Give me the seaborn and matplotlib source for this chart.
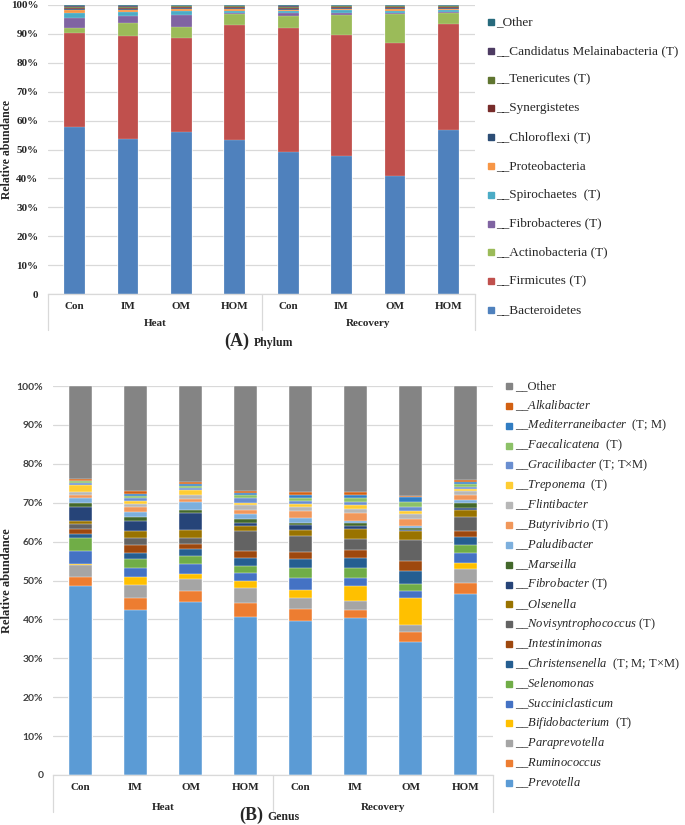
import pandas as pd
import seaborn as sns
import matplotlib.pyplot as plt
from matplotlib.patches import Rectangle

# Samples (x axis)
groups = ["Heat"] * 4 + ["Recovery"] * 4
treatments = ["Con", "IM", "OM", "HOM"] * 2

# Phylum, relative abundance (%), bottom -> top
Bacteroidetes = [57.7, 53.5, 56.0, 53.2, 49.2, 47.9, 40.9, 56.9]
Firmicutes = [32.6, 35.9, 32.7, 40.0, 42.9, 41.7, 46.0, 36.6]
Actinobacteria = [1.6, 4.3, 3.6, 3.6, 4.0, 6.8, 9.9, 3.9]
Fibrobacteres = [3.5, 2.6, 4.1, 0.6, 1.1, 0.7, 0.4, 0.2]
Spirochaetes = [1.7, 1.2, 1.5, 0.6, 0.6, 1.1, 0.6, 0.6]
Proteobacteria = [1.1, 0.7, 0.7, 0.6, 0.6, 0.4, 0.7, 0.5]
Chloroflexi = [0.4, 0.4, 0.3, 0.3, 0.3, 0.3, 0.3, 0.3]
Synergistetes = [0.3, 0.4, 0.3, 0.3, 0.4, 0.3, 0.4, 0.3]
Tenericutes = [0.4, 0.4, 0.3, 0.3, 0.3, 0.3, 0.3, 0.2]
Candidatus_Melainabacteria = [0.4, 0.3, 0.3, 0.3, 0.3, 0.3, 0.3, 0.3]
Other_phylum = [0.3, 0.3, 0.2, 0.2, 0.3, 0.2, 0.2, 0.2]

phylum_series = [Bacteroidetes, Firmicutes, Actinobacteria, Fibrobacteres, Spirochaetes,
                 Proteobacteria, Chloroflexi, Synergistetes, Tenericutes,
                 Candidatus_Melainabacteria, Other_phylum]
phylum_labels = ["__Bacteroidetes", "__Firmicutes (T)", "__Actinobacteria (T)",
                 "__Fibrobacteres (T)", "__Spirochaetes  (T)", "__Proteobacteria",
                 "__Chloroflexi (T)", "__Synergistetes", "__Tenericutes (T)",
                 "__Candidatus Melainabacteria (T)", "_Other"]
phylum_colors = ["#4F81BD", "#C0504D", "#9BBB59", "#8064A2", "#4BACC6", "#F79646",
                 "#2C4D75", "#772C2A", "#5F7530", "#4D3B62", "#276A7C"]

# Genus, relative abundance (%), bottom -> top
Prevotella = [48.7, 42.5, 44.4, 40.5, 39.6, 40.4, 34.2, 46.5]
Ruminococcus = [2.2, 3.0, 2.9, 3.6, 3.2, 2.1, 2.6, 2.9]
Paraprevotella = [3.1, 3.3, 3.1, 4.0, 2.8, 2.2, 1.7, 3.5]
Bifidobacterium = [0.3, 2.1, 1.3, 1.9, 1.9, 3.9, 6.9, 1.7]
Succiniclasticum = [3.2, 2.3, 2.6, 1.9, 3.2, 2.0, 1.9, 2.5]
Selenomonas = [3.3, 2.2, 2.1, 1.8, 2.4, 2.7, 1.9, 2.0]
Christensenella = [1.2, 1.7, 1.6, 2.0, 2.4, 2.4, 3.3, 2.0]
Intestinimonas = [1.3, 2.0, 1.3, 1.8, 1.9, 2.1, 2.6, 1.6]
Novisyntrophococcus = [1.1, 1.8, 1.7, 5.2, 4.1, 2.9, 5.2, 3.6]
Olsenella = [1.0, 1.7, 2.0, 1.2, 1.5, 2.5, 2.3, 1.7]
Fibrobacter = [3.5, 2.6, 4.3, 0.8, 1.2, 0.9, 0.5, 0.6]
Marseilla = [0.9, 1.1, 0.7, 1.2, 0.6, 0.6, 0.5, 1.4]
Paludibacter = [1.3, 1.3, 2.2, 1.1, 1.3, 0.7, 0.3, 0.7]
Butyrivibrio = [1.0, 1.2, 0.8, 1.1, 1.7, 2.0, 2.0, 1.3]
Flintibacter = [0.6, 0.8, 0.9, 1.3, 1.2, 1.1, 1.2, 1.0]
Treponema = [1.8, 0.9, 1.3, 0.6, 0.6, 0.9, 0.7, 0.5]
Gracilibacter = [0.5, 0.6, 0.6, 1.3, 0.9, 0.9, 1.2, 0.6]
Faecalicatena = [0.5, 0.5, 0.6, 0.7, 0.8, 1.0, 1.3, 0.8]
Mediterraneibacter = [0.2, 0.6, 0.4, 0.5, 0.7, 0.7, 1.1, 0.5]
Alkalibacter = [0.3, 0.7, 0.5, 0.5, 0.8, 0.8, 0.3, 0.4]
Other_genus = [24.0, 27.1, 24.7, 27.0, 27.2, 27.2, 28.3, 24.2]

genus_series = [Prevotella, Ruminococcus, Paraprevotella, Bifidobacterium, Succiniclasticum,
                Selenomonas, Christensenella, Intestinimonas, Novisyntrophococcus, Olsenella,
                Fibrobacter, Marseilla, Paludibacter, Butyrivibrio, Flintibacter, Treponema,
                Gracilibacter, Faecalicatena, Mediterraneibacter, Alkalibacter, Other_genus]
genus_labels = [r"__$\mathit{Prevotella}$", r"__$\mathit{Ruminococcus}$",
                r"__$\mathit{Paraprevotella}$", r"__$\mathit{Bifidobacterium}$  (T)",
                r"__$\mathit{Succiniclasticum}$", r"__$\mathit{Selenomonas}$",
                r"__$\mathit{Christensenella}$  (T; M; T×M)", r"__$\mathit{Intestinimonas}$",
                r"__$\mathit{Novisyntrophococcus}$ (T)", r"__$\mathit{Olsenella}$",
                r"__$\mathit{Fibrobacter}$ (T)", r"__$\mathit{Marseilla}$",
                r"__$\mathit{Paludibacter}$", r"__$\mathit{Butyrivibrio}$ (T)",
                r"__$\mathit{Flintibacter}$", r"__$\mathit{Treponema}$  (T)",
                r"__$\mathit{Gracilibacter}$ (T; T×M)", r"__$\mathit{Faecalicatena}$  (T)",
                r"__$\mathit{Mediterraneibacter}$  (T; M)", r"__$\mathit{Alkalibacter}$",
                "__Other"]
genus_colors = ["#5B9BD5", "#ED7D31", "#A5A5A5", "#FFC000", "#4472C4", "#70AD47",
                "#255E91", "#9E480E", "#636363", "#997300", "#264478", "#43682B",
                "#7CAFDD", "#F1975A", "#B7B7B7", "#FFCD33", "#698ED0", "#8CC168",
                "#327DC2", "#D26012", "#848484"]

W, H = 685, 825
GRID = "#D9D9D9"

sns.set_theme(style="white")
plt.rcParams["font.family"] = ["Liberation Serif", "DejaVu Sans"]
plt.rcParams["mathtext.fontset"] = "custom"
plt.rcParams["mathtext.rm"] = "Liberation Serif"
plt.rcParams["mathtext.it"] = "Liberation Serif:italic"


def px(x, y):
    return x / W, 1 - y / H


def stacked_bars(ax, series, colors, width=0.4, edge=0.4):
    samples = [f"{g}|{t}" for g, t in zip(groups, treatments)]
    frame = pd.DataFrame({i: s for i, s in enumerate(series)})
    cum = frame.cumsum(axis=1) / 100
    cum["sample"] = samples
    # draw from the top of the stack down so each segment sits on top
    for i in reversed(range(len(series))):
        sns.barplot(data=cum, x="sample", y=i, order=samples, color=colors[i],
                    saturation=1, width=width, errorbar=None, ax=ax,
                    edgecolor="white", linewidth=edge)
    ax.set_xlim(-0.5, 7.5)
    ax.set_ylim(0, 1)
    ax.set(xlabel=None)
    ax.set_xticks([])
    ax.spines[["top", "right", "left"]].set_visible(False)
    ax.spines["bottom"].set_color(GRID)
    ax.spines["bottom"].set_linewidth(0.9)
    ax.set_yticks([i / 10 for i in range(11)])
    ax.set_yticklabels(["0"] + [f"{i * 10}%" for i in range(1, 11)])
    ax.yaxis.grid(True, color=GRID, linewidth=0.9)
    ax.set_axisbelow(True)
    ax.tick_params(axis="y", length=0, pad=7)


def category_axis(ax, ax_h, lab_px, grp_px, line_px, size=8):
    tr = ax.get_xaxis_transform()
    for x in [-0.5, 3.5, 7.5]:
        ax.plot([x, x], [0, -line_px / ax_h], color=GRID, lw=0.9,
                transform=tr, clip_on=False)
    for i, t in enumerate(treatments):
        ax.text(i, -lab_px / ax_h, t, transform=tr, ha="center", va="center",
                fontsize=size, fontweight="bold")
    for x, g in [(1.5, "Heat"), (5.5, "Recovery")]:
        ax.text(x, -grp_px / ax_h, g, transform=tr, ha="center", va="center",
                fontsize=size, fontweight="bold")


def draw_legend(fig, labels, colors, x, y_top, dy, size, box=6):
    for k, (lab, col) in enumerate(zip(labels[::-1], colors[::-1])):
        yc = y_top + k * dy
        x0, y0 = px(x - box / 2, yc + box / 2)
        fig.add_artist(Rectangle((x0, y0), box / W, box / H, color=col,
                                 transform=fig.transFigure))
        fig.text(*px(x + 6, yc), lab, fontsize=size, ha="left", va="center")


fig = plt.figure(figsize=(W / 100, H / 100), dpi=100)

# (A) Phylum
axA = fig.add_axes([48 / W, 1 - 294 / H, 427 / W, 289 / H])
stacked_bars(axA, phylum_series, phylum_colors, width=0.39, edge=0.15)
for lab in axA.get_yticklabels():
    lab.set_fontweight("bold")
    lab.set_fontsize(8)
axA.set_ylabel("Relative abundance", fontsize=8.5, fontweight="bold")
axA.yaxis.set_label_coords(-0.082, 0.5)
category_axis(axA, 289, 12, 29, 36)
draw_legend(fig, phylum_labels, phylum_colors, 490.5, 22, 28.8, 9.5)
fig.text(*px(249, 346), "(A)", fontsize=13, fontweight="bold", ha="right", va="baseline")
fig.text(*px(254, 346), "Phylum", fontsize=8.5, fontweight="bold", ha="left", va="baseline")

# (B) Genus
axB = fig.add_axes([53 / W, 1 - 775 / H, 440 / W, 389 / H])
stacked_bars(axB, genus_series, genus_colors, width=0.41, edge=0.3)
for lab in axB.get_yticklabels():
    lab.set_family("Lato")
    lab.set_fontweight("bold")
    lab.set_fontsize(7.5)
    lab.set_color("#404040")
axB.set_ylabel("Relative abundance", fontsize=9, fontweight="bold")
axB.yaxis.set_label_coords(-0.092, 0.5)
category_axis(axB, 389, 13, 32, 37)
draw_legend(fig, genus_labels, genus_colors, 509, 386, 19.85, 9)
fig.text(*px(263, 820), "(B)", fontsize=13, fontweight="bold", ha="right", va="baseline")
fig.text(*px(267, 820), "Genus", fontsize=8.5, fontweight="bold", ha="left", va="baseline")

fig.savefig("out.png", dpi=100)
